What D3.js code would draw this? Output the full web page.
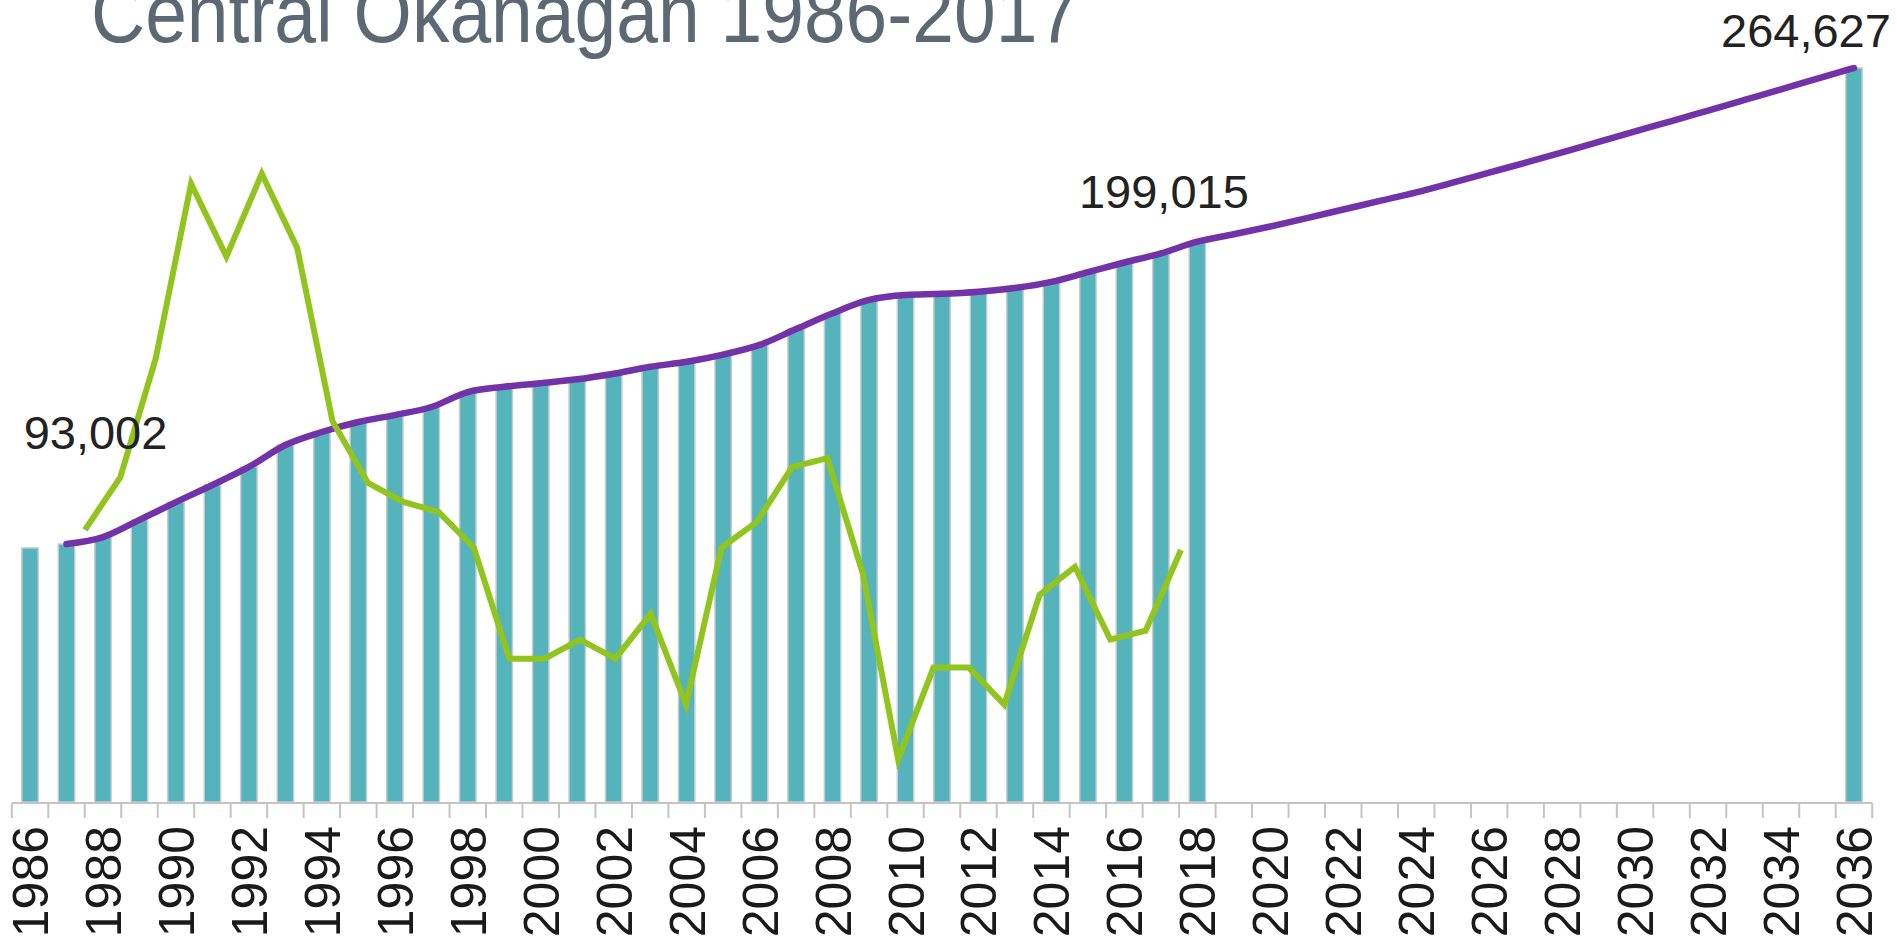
<!DOCTYPE html>
<html><head><meta charset="utf-8">
<script src="https://cdn.jsdelivr.net/npm/d3@7"></script>
<style>html,body{margin:0;padding:0;background:#fff;overflow:hidden}</style>
</head><body>
<svg id="c" width="1897" height="941"></svg>
<script>
// ---------- data ----------
const categories = [1986,1987,1988,1989,1990,1991,1992,1993,1994,1995,1996,1997,1998,1999,2000,2001,2002,2003,2004,2005,2006,2007,2008,2009,2010,2011,2012,2013,2014,2015,2016,2017,2018,2019,2020,2021,2022,2023,2024,2025,2026,2027,2028,2029,2030,2031,2032,2033,2034,2035,2036];

const barYears  = [1986,1987,1988,1989,1990,1991,1992,1993,1994,1995,1996,1997,1998,1999,2000,2001,2002,2003,2004,2005,2006,2007,2008,2009,2010,2011,2012,2013,2014,2015,2016,2017,2018,2036];
const barValues = [91600,93002,95500,101700,108100,114300,120800,128700,133400,137000,139500,142400,147800,149700,151000,152400,154400,156900,158700,161300,164800,170500,176200,181000,182800,183200,184000,185300,187500,191000,194500,197800,202000,264627];

const lineYears  = [1987,1988,1989,1990,1991,1992,1993,1994,1995,1996,1997,1998,1999,2000,2001,2002,2003,2004,2005,2006,2007,2008,2009,2010,2011,2012,2013,2014,2015,2016,2017,2018,2019,2020,2021,2022,2023,2024,2025,2026,2027,2028,2029,2030,2031,2032,2033,2034,2035,2036];
const lineValues = [93002,95500,101700,108100,114300,120800,128700,133400,137000,139500,142400,147800,149700,151000,152400,154400,156900,158700,161300,164800,170500,176200,181000,182800,183200,184000,185300,187500,191000,194500,197800,202000,204700,207500,210500,213600,216700,219800,223300,226900,230500,234200,238000,241800,245500,249300,253100,256900,260800,264627];

const growthYears  = [1987,1988,1989,1990,1991,1992,1993,1994,1995,1996,1997,1998,1999,2000,2001,2002,2003,2004,2005,2006,2007,2008,2009,2010,2011,2012,2013,2014,2015,2016,2017,2018];
const growthValues = [2.43,2.90,3.96,5.52,4.87,5.61,4.95,3.40,2.85,2.68,2.59,2.27,1.28,1.28,1.45,1.28,1.68,0.87,2.27,2.50,2.99,3.07,2.04,0.38,1.20,1.20,0.87,1.85,2.10,1.45,1.53,2.25];

const tickLabels = ["1986","1988","1990","1992","1994","1996","1998","2000","2002","2004","2006","2008","2010","2012","2014","2016","2018","2020","2022","2024","2026","2028","2030","2032","2034","2036"];

const titleText = "Central Okanagan 1986-2017";
const annotYears = [1987, 2017, 2036];
const annotTexts = ["93,002", "199,015", "264,627"];

// ---------- layout ----------
const svg = d3.select("#c");
const FONT = "'Liberation Sans', Arial, Helvetica, sans-serif";
const base = 802;

const x = d3.scaleBand().domain(categories).range([11.8, 1872.2]).paddingInner(0).paddingOuter(0);
const y = d3.scaleLinear().domain([0, 264627]).range([base, 68]);
const xg = d3.scalePoint().domain(growthYears).range([85, 1181]);
const yg = d3.scaleLinear().domain([0, 6]).range([base, 130]);
const xc = d => x(d) + x.bandwidth() / 2;

// title
svg.append("text")
  .attr("transform", "translate(91,42) scale(1,1.1)")
  .attr("font-family", FONT).attr("font-size", 75).attr("fill", "#5d6972")
  .text(titleText);

// bars
const bw = x.bandwidth() * 0.45;
svg.append("g").selectAll("rect").data(barYears.map((d, i) => ({year: d, v: barValues[i]})))
  .join("rect")
  .attr("x", d => xc(d.year) - bw / 2)
  .attr("width", bw)
  .attr("y", d => y(d.v))
  .attr("height", d => base - y(d.v))
  .attr("fill", "#55b3bc")
  .attr("stroke", "#c6cdd0")
  .attr("stroke-width", 1.5);

// axis line and ticks
const axisG = svg.append("g");
axisG.append("line").attr("x1", x.range()[0]).attr("x2", x.range()[1])
  .attr("y1", base + 1).attr("y2", base + 1).attr("stroke", "#c4c4c4").attr("stroke-width", 2);
const tickPos = categories.map(d => x(d)).concat([x.range()[1]]);
axisG.selectAll("line.t").data(tickPos).join("line").attr("class", "t")
  .attr("x1", d => d).attr("x2", d => d)
  .attr("y1", base + 1).attr("y2", base + 16)
  .attr("stroke", "#c4c4c4").attr("stroke-width", 2);

// tick labels
axisG.selectAll("text").data(tickLabels).join("text")
  .attr("transform", d => `translate(${xc(+d)},826) rotate(-90)`)
  .attr("text-anchor", "end")
  .attr("dy", "0.36em")
  .attr("font-family", FONT).attr("font-size", 50).attr("fill", "#1a1a1a")
  .text(d => d);

// population line
const pLine = d3.line().x((d, i) => xc(lineYears[i])).y(d => y(d)).curve(d3.curveMonotoneX);
svg.append("path").attr("d", pLine(lineValues))
  .attr("fill", "none").attr("stroke", "#7232a8").attr("stroke-width", 6.5)
  .attr("stroke-linecap", "round");

// growth line
const gLine = d3.line().x((d, i) => xg(growthYears[i])).y(d => yg(d));
svg.append("path").attr("d", gLine(growthValues))
  .attr("fill", "none").attr("stroke", "#91c41e").attr("stroke-width", 6)
  .attr("stroke-linejoin", "miter");

// annotations
const annotOffsets = [[29, -95], [3, -45], [-48, -21]];
svg.append("g").selectAll("text").data(annotTexts).join("text")
  .attr("x", (d, i) => xc(annotYears[i]) + annotOffsets[i][0])
  .attr("y", (d, i) => y(lineValues[lineYears.indexOf(annotYears[i])]) + annotOffsets[i][1])
  .attr("text-anchor", "middle")
  .attr("font-family", FONT).attr("font-size", 47).attr("fill", "#222")
  .text(d => d);
</script>
</body></html>
